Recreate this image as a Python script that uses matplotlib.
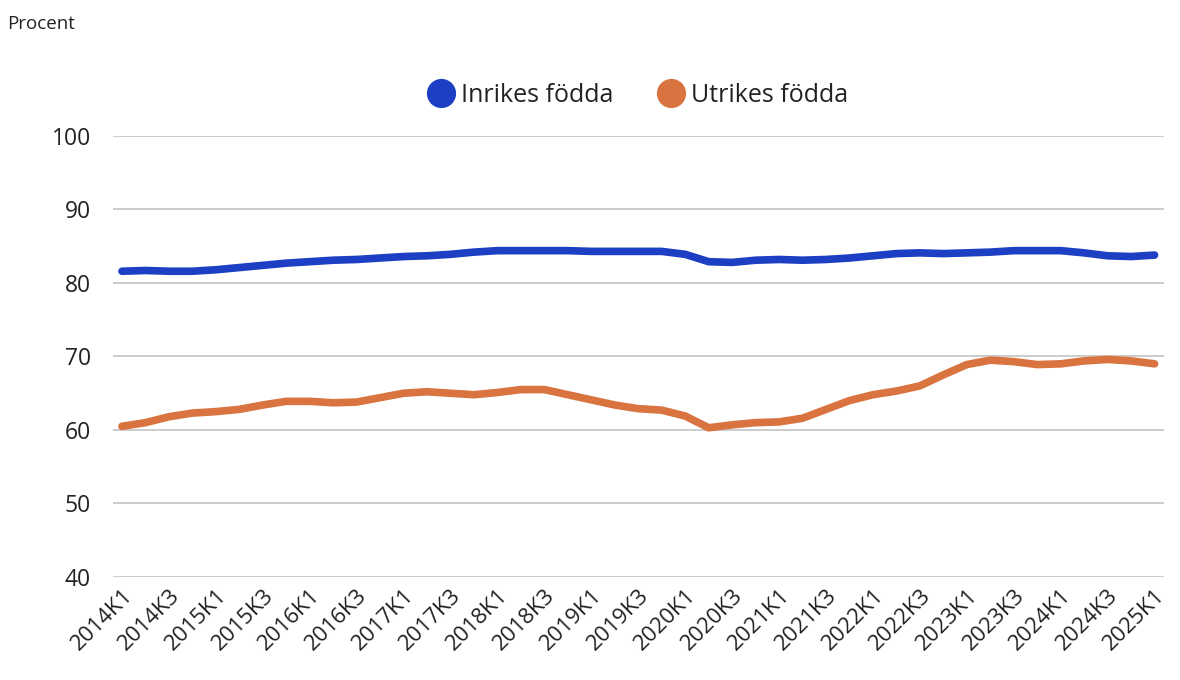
import numpy as np
import matplotlib
matplotlib.use('Agg')
import matplotlib.pyplot as plt
from matplotlib.lines import Line2D

plt.rcParams['font.family'] = ['Open Sans', 'DejaVu Sans']

# Kvartal 2014K1 - 2025K1
years = list(range(2014, 2026))
quarters = [f'{y}K{q}' for y in years for q in range(1, 5)][:45]

inrikes = [81.6, 81.7, 81.6, 81.6, 81.8, 82.1, 82.4, 82.7, 82.9, 83.1,
           83.2, 83.4, 83.6, 83.7, 83.9, 84.2, 84.4, 84.4, 84.4, 84.4,
           84.3, 84.3, 84.3, 84.3, 83.9, 82.9, 82.8, 83.1, 83.2, 83.1,
           83.2, 83.4, 83.7, 84.0, 84.1, 84.0, 84.1, 84.2, 84.4, 84.4,
           84.4, 84.1, 83.7, 83.6, 83.8]

utrikes = [60.5, 61.0, 61.8, 62.3, 62.5, 62.8, 63.4, 63.9, 63.9, 63.7,
           63.8, 64.4, 65.0, 65.2, 65.0, 64.8, 65.1, 65.5, 65.5, 64.8,
           64.1, 63.4, 62.9, 62.7, 61.9, 60.3, 60.7, 61.0, 61.1, 61.6,
           62.8, 64.0, 64.8, 65.3, 66.0, 67.5, 68.9, 69.5, 69.3, 68.9,
           69.0, 69.4, 69.6, 69.4, 69.0]

y_ticks = [40, 50, 60, 70, 80, 90, 100]

BLUE = '#1c3fc4'
ORANGE = '#d9733f'


def plot_chart():
    fig = plt.figure(figsize=(11.8, 6.8), dpi=100)
    ax = fig.add_axes([0.0958, 0.1515, 0.891, 0.6485])

    x = np.arange(len(quarters))
    ax.plot(x, inrikes, color=BLUE, lw=5.5, solid_capstyle='round',
            solid_joinstyle='round', zorder=3)
    ax.plot(x, utrikes, color=ORANGE, lw=5.5, solid_capstyle='round',
            solid_joinstyle='round', zorder=3)

    ax.set_ylim(40, 100)
    ax.set_xlim(-0.38, len(quarters) - 1 + 0.42)
    ax.set_yticks(y_ticks)
    ax.set_xticks(x[::2])
    ax.set_xticklabels(quarters[::2], rotation=45, ha='right',
                       rotation_mode='anchor', fontsize=16, color='#222222')
    ax.tick_params(axis='both', length=0, colors='#222222')
    ax.tick_params(axis='y', labelsize=16.5, pad=16)
    ax.tick_params(axis='x', pad=6)
    ax.grid(axis='y', color='#cccccc', lw=1.4)
    ax.set_axisbelow(True)
    for s in ax.spines.values():
        s.set_visible(False)

    fig.text(0.006, 0.964, 'Procent', fontsize=13.5, color='#222222',
             ha='left', va='center')

    handles = [
        Line2D([], [], ls='none', marker='o', ms=20, color=BLUE),
        Line2D([], [], ls='none', marker='o', ms=20, color=ORANGE),
    ]
    ax.legend(handles, ['Inrikes födda', 'Utrikes födda'], loc='center',
              bbox_to_anchor=(0.5, 1.092), ncol=2, frameon=False,
              fontsize=18, handletextpad=0.3, columnspacing=1.8,
              handlelength=1.0, labelcolor='#222222')

    fig.savefig('out.png', dpi=100)
    plt.close(fig)


if __name__ == '__main__':
    plot_chart()
